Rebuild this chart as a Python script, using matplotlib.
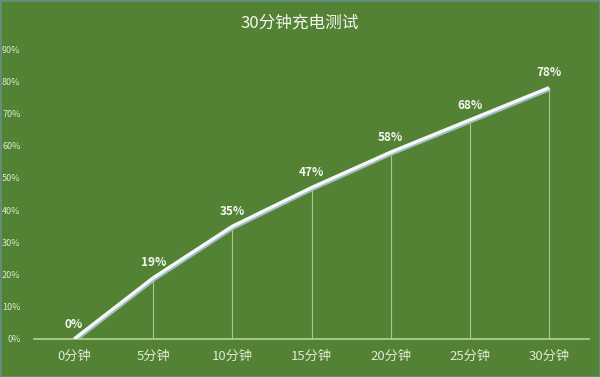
import matplotlib
matplotlib.use("Agg")
import matplotlib.pyplot as plt
import matplotlib.transforms as mtransforms

plt.rcParams['font.family'] = ['Noto Sans CJK SC', 'DejaVu Sans']

labels = ['0分钟', '5分钟', '10分钟', '15分钟', '20分钟', '25分钟', '30分钟']
values = [0, 19, 35, 47, 58, 68, 78]
yticks = [0, 10, 20, 30, 40, 50, 60, 70, 80, 90]

bg = '#548235'
txt = '#dcebd2'

fig = plt.figure(figsize=(6, 3.77), dpi=100, facecolor=bg, edgecolor='#5f8f78', linewidth=2)
ax = fig.add_axes([0.0575, 0.1008, 0.9235, 0.7692])
ax.set_facecolor(bg)

x = list(range(len(values)))

# vertical drop lines
for xi, v in zip(x, values):
    if v > 0:
        ax.plot([xi, xi], [0, v], color='#a8c98c', lw=0.8, zorder=1)

# shadow under the line
shadow = mtransforms.offset_copy(ax.transData, fig=fig, x=0.8, y=-1.2, units='points')
ax.plot(x, values, color='#a3bcc8', lw=2.4, transform=shadow, zorder=2, solid_capstyle='butt')
ax.plot(x, values, color='#f4f8f6', lw=2.4, zorder=3, solid_capstyle='butt')

for xi, v in zip(x, values):
    ax.annotate(f'{v}%', (xi, v), xytext=(0, 6), textcoords='offset points',
                ha='center', va='bottom', color='#f2f6ee', fontsize=8.5, fontweight='bold')

ax.set_xlim(-0.5, len(values) - 0.5)
ax.set_ylim(0, 90)
ax.set_xticks(x)
ax.set_xticklabels(labels, color=txt, fontsize=9.5)
ax.set_yticks(yticks)
ax.set_yticklabels([f'{t}%' for t in yticks], color=txt, fontsize=6.5)
ax.tick_params(axis='both', length=0)
ax.tick_params(axis='x', pad=8)
ax.tick_params(axis='y', pad=10)
for s in ['top', 'right', 'left']:
    ax.spines[s].set_visible(False)
ax.spines['bottom'].set_color('#b3d396')
ax.spines['bottom'].set_linewidth(1.2)

fig.text(0.5, 0.94, '30分钟充电测试', ha='center', va='center', color='#f2f6ee', fontsize=12, fontweight='medium')

fig.savefig('out.png', dpi=100, facecolor=bg, edgecolor='#5f8f78')
